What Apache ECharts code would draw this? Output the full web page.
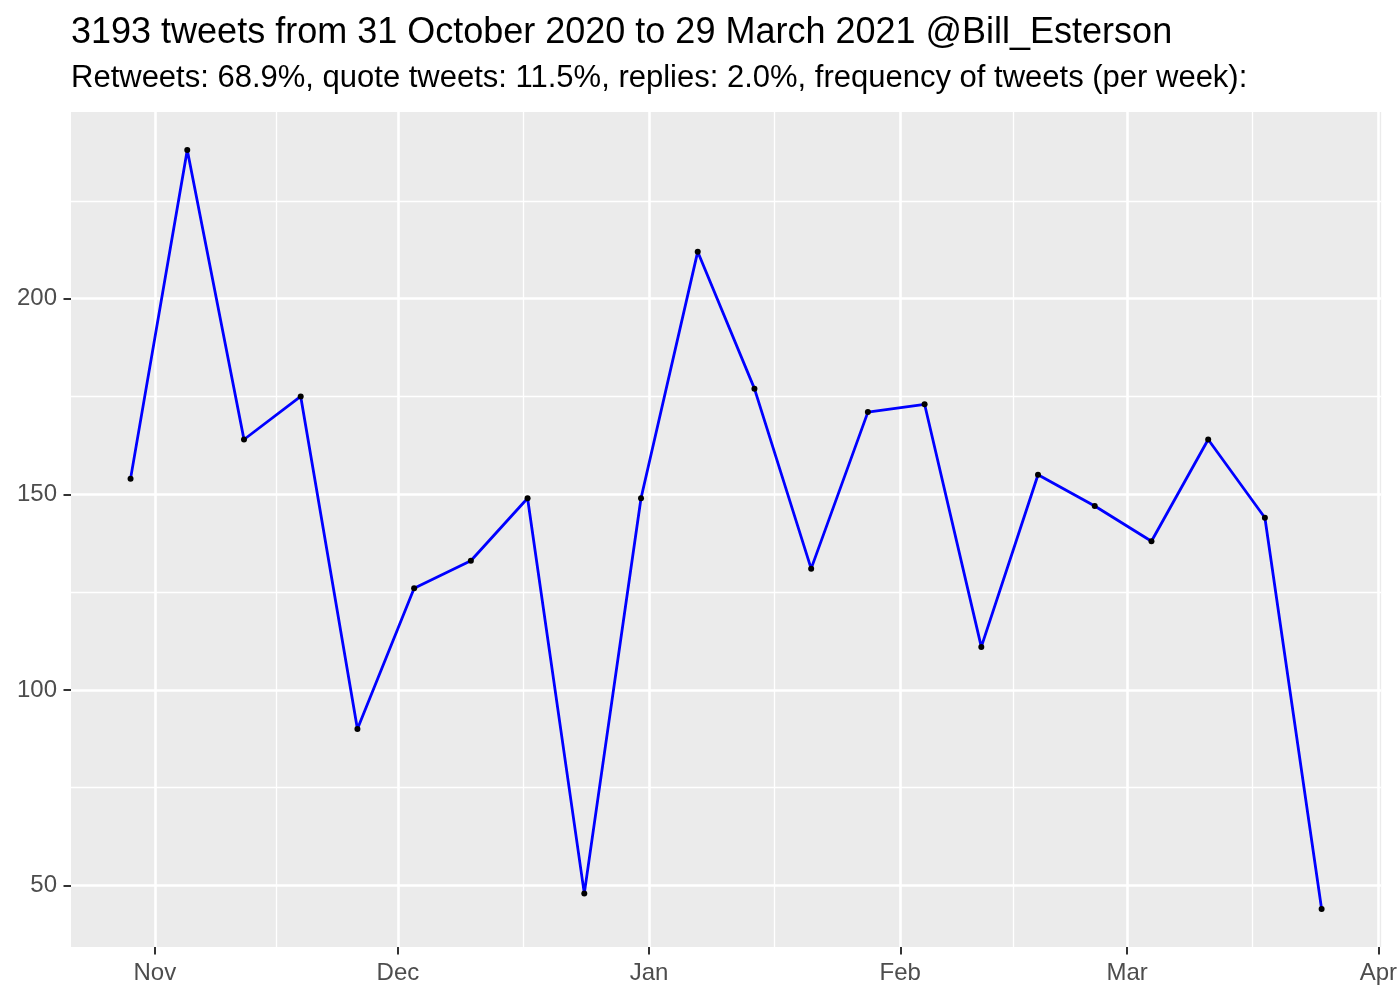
<!DOCTYPE html>
<html>
<head>
<meta charset="utf-8">
<script src="https://cdn.jsdelivr.net/npm/echarts@6/dist/echarts.min.js"></script>
<style>html,body{margin:0;padding:0;background:#fff}#c{width:1400px;height:1000px}</style>
</head>
<body>
<div id="c"></div>
<script>
// ---- data ----
const weekDates = ['2020-10-29','2020-11-05','2020-11-12','2020-11-19','2020-11-26','2020-12-03','2020-12-10','2020-12-17','2020-12-24','2020-12-31','2021-01-07','2021-01-14','2021-01-21','2021-01-28','2021-02-04','2021-02-11','2021-02-18','2021-02-25','2021-03-04','2021-03-11','2021-03-18','2021-03-25'];
const tweetsPerWeek = [154,238,164,175,90,126,133,149,48,149,212,177,131,171,173,111,155,147,138,164,144,44];
const monthBreaks = ['2020-11-01','2020-12-01','2021-01-01','2021-02-01','2021-03-01','2021-04-01'];
const monthLabels = ['Nov','Dec','Jan','Feb','Mar','Apr'];
const yBreaks = [50,100,150,200];
const yMinorBreaks = [75,125,175,225];
const titleText = '3193 tweets from 31 October 2020 to 29 March 2021 @Bill_Esterson';
const subtitleText = 'Retweets: 68.9%, quote tweets: 11.5%, replies: 2.0%, frequency of tweets (per week):';

// ---- helpers: dates -> day numbers (value axis) ----
const dayNum = s => { const p = s.split('-').map(Number); return Date.UTC(p[0], p[1]-1, p[2]) / 86400000; };
const xs = weekDates.map(dayNum);
const breaksX = monthBreaks.map(dayNum);
const minorX = [];
for (let i = 0; i < breaksX.length - 1; i++) minorX.push((breaksX[i] + breaksX[i+1]) / 2);
const xSpan = xs[xs.length-1] - xs[0];
const xMin = xs[0] - 0.05 * xSpan, xMax = xs[xs.length-1] + 0.05 * xSpan;
const yLo = Math.min(...tweetsPerWeek), yHi = Math.max(...tweetsPerWeek);
const yMin = yLo - 0.05 * (yHi - yLo), yMax = yHi + 0.05 * (yHi - yLo);

const FONT = '"Liberation Sans", Arial, Helvetica, sans-serif';
const gridLines = [];
breaksX.forEach(v => gridLines.push({xAxis: v, lineStyle: {width: 2.6, color: '#fff', type: 'solid'}}));
minorX.forEach(v => gridLines.push({xAxis: v, lineStyle: {width: 1.3, color: '#fff', type: 'solid'}}));
yBreaks.forEach(v => gridLines.push({yAxis: v, lineStyle: {width: 2.6, color: '#fff', type: 'solid'}}));
yMinorBreaks.forEach(v => gridLines.push({yAxis: v, lineStyle: {width: 1.3, color: '#fff', type: 'solid'}}));

const chart = echarts.init(document.getElementById('c'), null, {renderer: 'canvas'});
chart.setOption({
  animation: false,
  backgroundColor: '#ffffff',
  title: {
    text: titleText,
    subtext: subtitleText,
    left: 66,
    top: 10,
    itemGap: 12,
    textStyle: {fontFamily: FONT, fontSize: 36, fontWeight: 'normal', color: '#000'},
    subtextStyle: {fontFamily: FONT, fontSize: 31, color: '#000'}
  },
  grid: {left: 71, right: 15, top: 112, bottom: 53, show: true, backgroundColor: '#EBEBEB', borderWidth: 0, containLabel: false},
  xAxis: {
    type: 'value', min: xMin, max: xMax,
    axisLine: {show: false},
    splitLine: {show: false},
    axisTick: {show: true, customValues: breaksX, length: 7.5, lineStyle: {color: '#333333', width: 2}},
    axisLabel: {show: true, customValues: breaksX, margin: 14, fontFamily: FONT, fontSize: 24, color: '#4D4D4D',
      showMinLabel: true, showMaxLabel: true, hideOverlap: false,
      formatter: v => { const i = breaksX.findIndex(b => Math.abs(b - v) < 1e-6); return i >= 0 ? monthLabels[i] : ''; }}
  },
  yAxis: {
    type: 'value', min: yMin, max: yMax,
    axisLine: {show: false},
    splitLine: {show: false},
    axisTick: {show: true, customValues: yBreaks, length: 7.5, lineStyle: {color: '#333333', width: 2}},
    axisLabel: {show: true, customValues: yBreaks, margin: 14, fontFamily: FONT, fontSize: 24, color: '#4D4D4D'}
  },
  series: [
    {
      type: 'line', data: [], z: 1, silent: true,
      markLine: {silent: true, z: 1, symbol: 'none', label: {show: false}, animation: false, data: gridLines}
    },
    {
      type: 'line', z: 3,
      data: xs.map((x, i) => [x, tweetsPerWeek[i]]),
      lineStyle: {color: '#0000FF', width: 2.8},
      symbol: 'circle', symbolSize: 6, showSymbol: true,
      itemStyle: {color: '#000000', borderWidth: 0}
    }
  ]
});
</script>
</body>
</html>
